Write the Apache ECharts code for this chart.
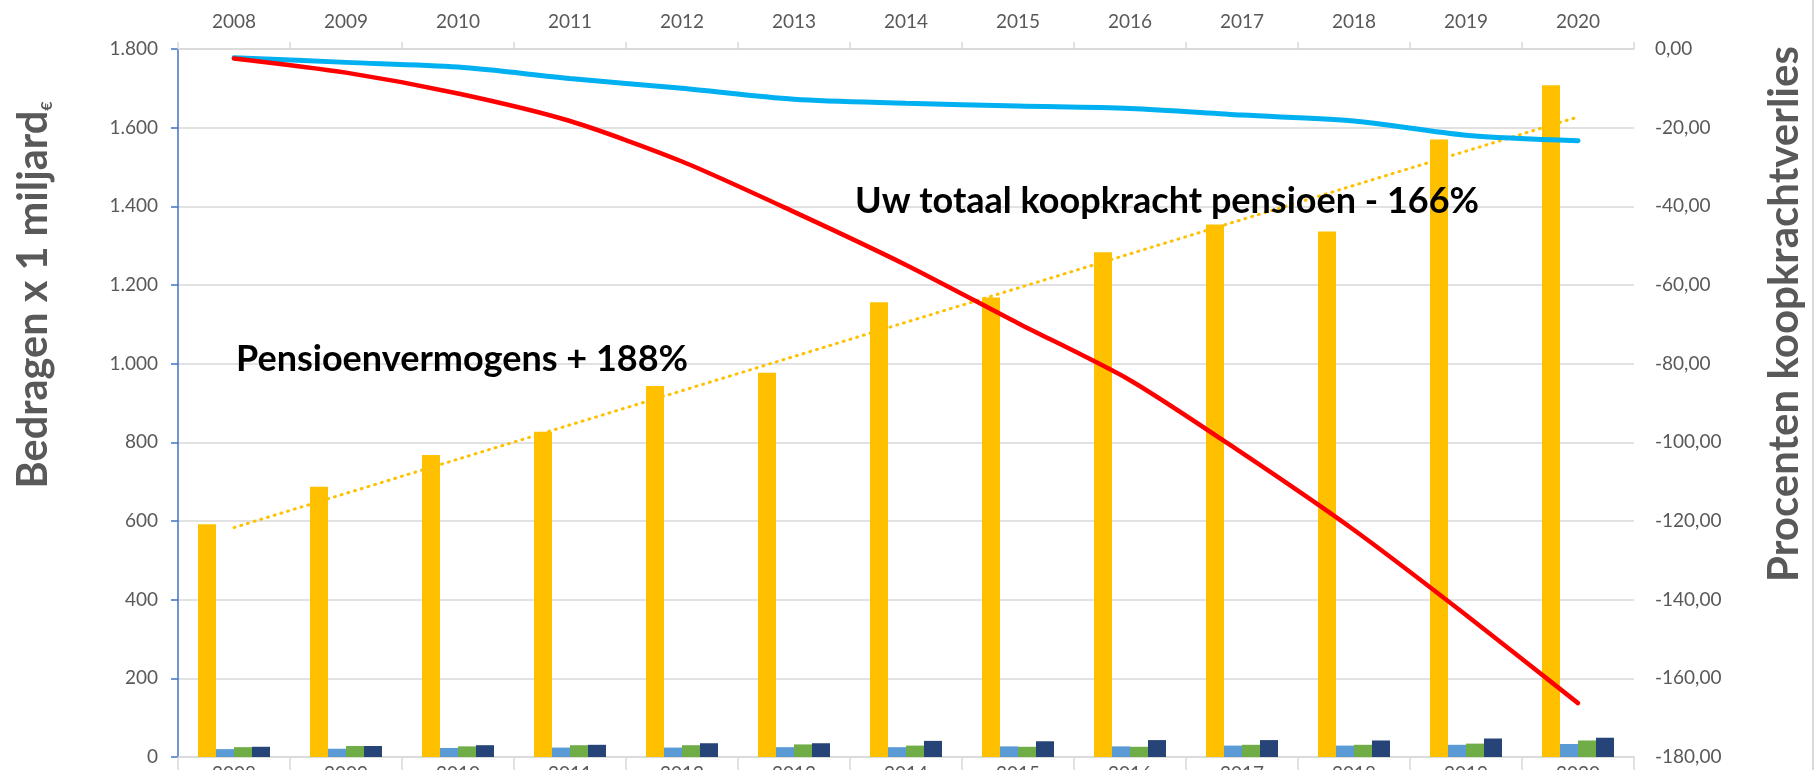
<!DOCTYPE html>
<html>
<head>
<meta charset="utf-8">
<script src="https://cdn.jsdelivr.net/npm/echarts@6/dist/echarts.min.js"></script>
<style>
html, body { margin: 0; padding: 0; background: #fff; }
#chart { width: 1819px; height: 770px; }
</style>
</head>
<body>
<div id="chart"></div>
<script>
const jaren = ['2008','2009','2010','2011','2012','2013','2014','2015','2016','2017','2018','2019','2020'];
const vermogen = [592, 687, 768, 827, 943, 977, 1156, 1168, 1283, 1354, 1336, 1570, 1708];
const lichtblauw = [20, 21, 23, 24, 24, 25, 25, 27, 27, 29, 29, 31, 33];
const groen = [25, 28, 27, 30, 30, 32, 29, 26, 26, 31, 31, 34, 42];
const donkerblauw = [26, 28, 30, 31, 35, 35, 41, 40, 43, 43, 42, 47, 49];
const koopkracht = [-2.2, -3.4, -4.6, -7.5, -10, -12.8, -13.8, -14.5, -15.1, -16.8, -18.3, -21.9, -23.3];
const totaal = [-2.4, -6.0, -11.3, -18.3, -28.6, -41.4, -54.9, -69.7, -84.2, -102.7, -122.3, -143.9, -166.3];

// lineaire trendlijn over de pensioenvermogens, zoals Excel die tekent
function trend(v) {
    const n = v.length, mx = (n - 1) / 2;
    const my = v.reduce((a, b) => a + b, 0) / n;
    let sxy = 0, sxx = 0;
    v.forEach((y, i) => { sxy += (i - mx) * (y - my); sxx += (i - mx) * (i - mx); });
    const b = sxy / sxx;
    return v.map((_, i) => +(my + b * (i - mx)).toFixed(1));
}

const grijs = '#595959';
const lijn = '#d9d9d9';
const font = 'Lato';

const chart = echarts.init(document.getElementById('chart'));

function bar(name, data, color) {
    return { name, type: 'bar', data, barWidth: 18, barGap: '0%', itemStyle: { color }, z: 2 };
}

chart.setOption({
    animation: false,
    textStyle: { fontFamily: font },
    grid: { left: 178, right: 185, top: 49, bottom: 13, outerBoundsMode: 'none', containLabel: false },
    xAxis: [
        { type: 'category', data: jaren, position: 'bottom',
          axisLine: { lineStyle: { color: lijn, width: 1.5 } },
          axisTick: { show: true, length: 14, lineStyle: { color: lijn, width: 1.5 } },
          axisLabel: { color: grijs, fontSize: 19, margin: 7 } },
        { type: 'category', data: jaren, position: 'top',
          axisLine: { lineStyle: { color: lijn, width: 1.5 } },
          axisTick: { show: true, length: 7, lineStyle: { color: lijn, width: 1.5 } },
          axisLabel: { color: grijs, fontSize: 19, margin: 18 } }
    ],
    yAxis: [
        { type: 'value', min: 0, max: 1800, interval: 200, position: 'left',
          axisLine: { show: true, lineStyle: { color: '#4472c4', width: 1.5 } },
          axisTick: { show: true, length: 7, lineStyle: { color: '#4472c4', width: 1.5 } },
          splitLine: { lineStyle: { color: lijn, width: 1.5 } },
          axisLabel: { color: grijs, fontSize: 19, margin: 20,
              formatter: v => String(v).replace(/\B(?=(\d{3})+(?!\d))/g, '.') } },
        { type: 'value', min: -180, max: 0, interval: 20, position: 'right',
          axisLine: { show: false }, axisTick: { show: false }, splitLine: { show: false },
          axisLabel: { color: grijs, fontSize: 19, margin: 21,
              formatter: v => v.toFixed(2).replace('.', ',') } }
    ],
    series: [
        bar('Pensioenvermogens', vermogen, '#ffc000'),
        bar('Serie 2', lichtblauw, '#5b9bd5'),
        bar('Serie 3', groen, '#70ad47'),
        bar('Serie 4', donkerblauw, '#264478'),
        { name: 'Trend', type: 'line', data: trend(vermogen), symbol: 'none', z: 3,
          lineStyle: { color: '#ffc000', width: 3, type: [1, 6], cap: 'round' } },
        { name: 'Koopkracht', type: 'line', yAxisIndex: 1, data: koopkracht, smooth: 0.3, symbol: 'none', z: 4,
          lineStyle: { color: '#00b0f0', width: 5, cap: 'round' } },
        { name: 'Totaal koopkracht pensioen', type: 'line', yAxisIndex: 1, data: totaal, smooth: 0.25, symbol: 'none', z: 4,
          lineStyle: { color: '#ff0000', width: 4.5, cap: 'round' } }
    ],
    graphic: [
        { type: 'text', left: 855, top: 183, z: 10,
          style: { text: 'Uw totaal koopkracht pensioen - 166%', fill: '#000', font: `bold 36px ${font}` } },
        { type: 'text', left: 236, top: 341, z: 10,
          style: { text: 'Pensioenvermogens + 188%', fill: '#000', font: `bold 36px ${font}` } },
        { type: 'text', x: 34, y: 295, rotation: Math.PI / 2, z: 10,
          style: { text: '{a|Bedragen x 1 miljard}{b|€}', align: 'center', verticalAlign: 'middle',
              rich: { a: { fill: grijs, font: `bold 41.5px ${font}` },
                      b: { fill: grijs, font: `bold 16px ${font}`, verticalAlign: 'bottom' } } } },
        { type: 'text', x: 1784, y: 314, rotation: Math.PI / 2, z: 10,
          style: { text: 'Procenten koopkrachtverlies', fill: grijs, font: `bold 42px ${font}`,
              align: 'center', verticalAlign: 'middle' } },
        { type: 'line', z: 10, shape: { x1: 1813, y1: 0, x2: 1813, y2: 770 },
          style: { stroke: lijn, lineWidth: 2 } }
    ]
});

window.addEventListener('resize', () => chart.resize());
</script>
</body>
</html>
